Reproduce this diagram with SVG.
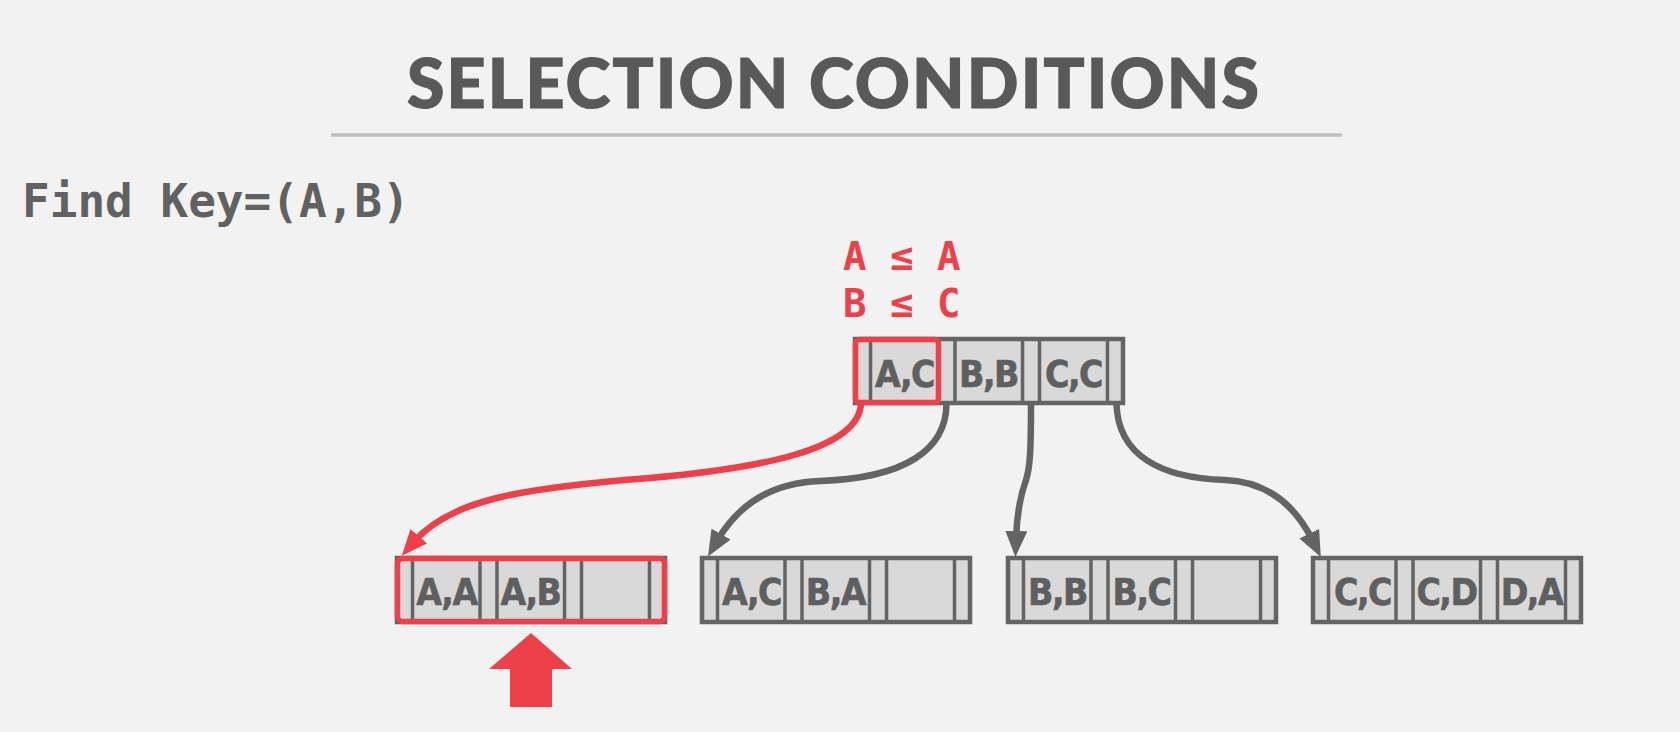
<svg xmlns="http://www.w3.org/2000/svg" xmlns:xlink="http://www.w3.org/1999/xlink" width="1680" height="732" viewBox="0 0 1680 732">
<style>
.title{font-family:Lato,"Open Sans","DejaVu Sans",sans-serif;font-weight:900;font-size:68px;fill:#595959;stroke:#595959;stroke-width:1.2}
.mono{font-family:"DejaVu Sans Mono","Liberation Mono",monospace;font-weight:700}
.find{font-size:46px;fill:#616161}
.cond{font-size:39px;fill:#ee4049}
.key{font-family:"DejaVu Sans Condensed","DejaVu Sans",sans-serif;font-stretch:condensed;font-weight:700;font-size:37px;letter-spacing:-1.5px;fill:#5f5f5f;stroke:#5f5f5f;stroke-width:0.6;text-anchor:middle}
.box{fill:#d9d9d9;stroke:#646464;stroke-width:4.5}
.sep{stroke:#646464;stroke-width:3.5}
.hl{fill:none;stroke:#ee4049;stroke-width:5.5}
.edge{fill:none;stroke-width:6.5;stroke-linecap:round}
.grey{stroke:#646464}
.red{stroke:#ee4049}
</style>
<defs>
<marker id="ahGrey" viewBox="0 0 26 22" markerWidth="26" markerHeight="22" refX="8" refY="11" orient="auto" markerUnits="userSpaceOnUse"><path d="M0,0 L26,11 L0,22 Z" fill="#646464"/></marker>
<marker id="ahRed" viewBox="0 0 26 22" markerWidth="26" markerHeight="22" refX="8" refY="11" orient="auto" markerUnits="userSpaceOnUse"><path d="M0,0 L26,11 L0,22 Z" fill="#ee4049"/></marker>
<g id="nodeShape">
<rect class="box" x="2" y="2" width="268" height="64"/>
<path class="sep" d="M17.5,2V66M85,2V66M102,2V66M169.5,2V66M186.5,2V66M254.5,2V66"/>
</g>
</defs>
<rect width="1680" height="732" fill="#f2f2f2"/>
<g id="title">
<text class="title" x="407" y="108" textLength="852" lengthAdjust="spacing">SELECTION CONDITIONS</text>
<line x1="331" y1="135" x2="1342" y2="135" stroke="#bfbfbf" stroke-width="3.5"/>
</g>
<g id="query">
<text class="mono find" x="22" y="217">Find Key=(A,B)</text>
</g>
<g id="conditions">
<text class="mono cond" x="843" y="270" xml:space="preserve">A ≤ A</text>
<text class="mono cond" x="843" y="317" xml:space="preserve">B ≤ C</text>
</g>
<g id="connectors">
<path class="edge red" d="M861,404 C858,450 760,468 650,478 C520,488 450,500 413.6,542.2" marker-end="url(#ahRed)"/>
<path class="edge grey" d="M946.5,404 C946,450 905,478 820,481 C765,483 735,510 717,541" marker-end="url(#ahGrey)"/>
<path class="edge grey" d="M1031,404 C1031,450 1030,468 1026,480 C1021,494 1017,510 1016,539" marker-end="url(#ahGrey)"/>
<path class="edge grey" d="M1116.5,404 C1118,455 1160,478 1225,480 C1275,482 1300,515 1312.8,540.8" marker-end="url(#ahGrey)"/>
</g>
<g id="root" transform="translate(853,337)">
<use xlink:href="#nodeShape" href="#nodeShape"/>
<text class="key" x="51.5" y="50">A,C</text>
<text class="key" x="135.5" y="50">B,B</text>
<text class="key" x="220.5" y="50">C,C</text>
<rect class="hl" x="2.5" y="2.5" width="83" height="63" rx="4"/>
</g>
<g id="leaf1" transform="translate(395,556)">
<use xlink:href="#nodeShape" href="#nodeShape"/>
<text class="key" x="51.5" y="49">A,A</text>
<text class="key" x="135.5" y="49">A,B</text>
<rect class="hl" x="2.5" y="2.5" width="267" height="63" rx="5"/>
</g>
<g id="leaf2" transform="translate(700,556)">
<use xlink:href="#nodeShape" href="#nodeShape"/>
<text class="key" x="51.5" y="49">A,C</text>
<text class="key" x="135.5" y="49">B,A</text>
</g>
<g id="leaf3" transform="translate(1006,556)">
<use xlink:href="#nodeShape" href="#nodeShape"/>
<text class="key" x="51.5" y="49">B,B</text>
<text class="key" x="135.5" y="49">B,C</text>
</g>
<g id="leaf4" transform="translate(1311,556)">
<use xlink:href="#nodeShape" href="#nodeShape"/>
<text class="key" x="51.5" y="49">C,C</text>
<text class="key" x="135.5" y="49">C,D</text>
<text class="key" x="220.5" y="49">D,A</text>
</g>
<g id="pointer">
<polygon points="531,633 572,669 552,669 552,707 510,707 510,669 489,669" fill="#ee4049"/>
</g>
</svg>
